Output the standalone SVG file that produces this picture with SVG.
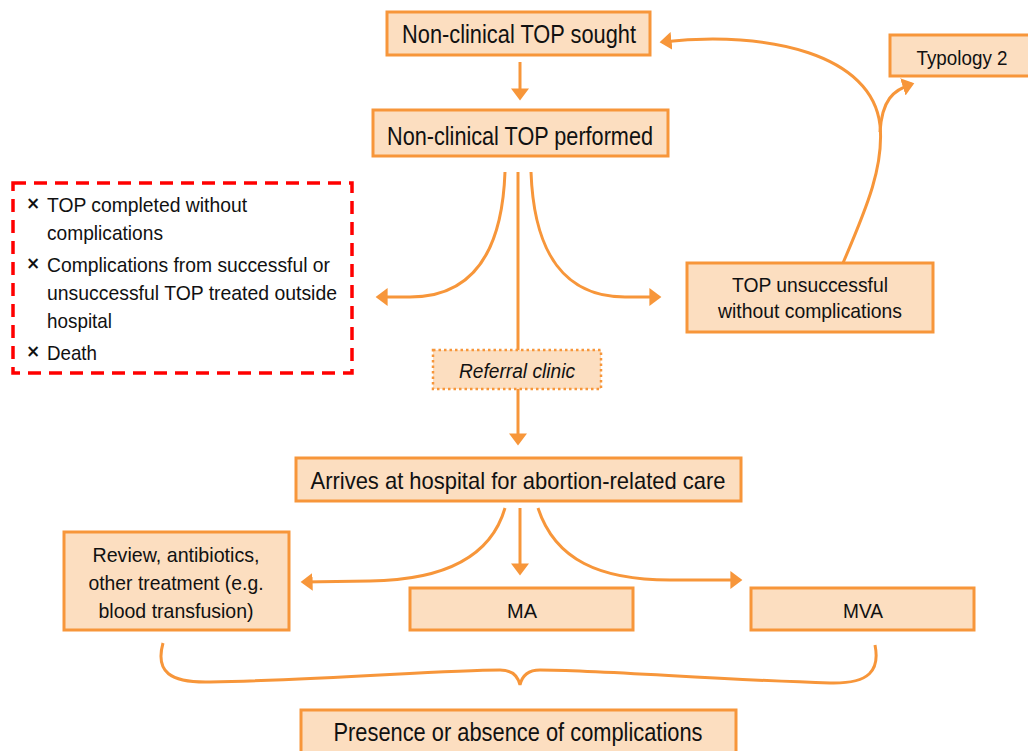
<svg xmlns="http://www.w3.org/2000/svg" width="1028" height="751" viewBox="0 0 1028 751">
<defs>
<style>
.box{fill:#FCDEC0;stroke:#F7963A;stroke-width:3}
.dot{fill:#FCDEC0;stroke:#F7963A;stroke-width:2.5;stroke-dasharray:2.5 3}
.t{font-family:"Liberation Sans Narrow","Liberation Sans",Arial,sans-serif;fill:#111;text-anchor:middle}
.l{font-family:"Liberation Sans Narrow","Liberation Sans",Arial,sans-serif;fill:#111}
.x{font-family:"DejaVu Sans",sans-serif;fill:#111;font-weight:bold}
.c{fill:none;stroke:#F7963A;stroke-width:3}
</style>
<marker id="ah" markerWidth="6" markerHeight="6" refX="3.2" refY="3" orient="auto" markerUnits="strokeWidth">
<path d="M0,0 L4,3 L0,6 Z" fill="#F7963A"/>
</marker>
</defs>
<rect width="1028" height="751" fill="#fff"/>

<g id="connectors">
<path class="c" d="M520,62 L520,98" marker-end="url(#ah)"/>
<path class="c" d="M843,263 C868,205 884,165 880,125 C872,55 770,30 662,42" marker-end="url(#ah)"/>
<path class="c" d="M880,132 C882,100 893,90 912,84" marker-end="url(#ah)"/>
<path class="c" d="M505,172 C502,255 470,297 410,297 L378,297" marker-end="url(#ah)"/>
<path class="c" d="M518,172 L518,350"/>
<path class="c" d="M531,172 C534,255 566,297 625,297 L659,297" marker-end="url(#ah)"/>
<path class="c" d="M518,389 L518,443" marker-end="url(#ah)"/>
<path class="c" d="M505,508 C490,560 440,580 370,581 L303,582" marker-end="url(#ah)"/>
<path class="c" d="M520,508 L520,573" marker-end="url(#ah)"/>
<path class="c" d="M538,508 C555,560 600,580 670,580 L740,580" marker-end="url(#ah)"/>
<path class="c" d="M163,643 C155,672 170,683 210,682 C330,680 440,670 500,670 C512,670 518,676 520,685 C522,676 528,670 540,670 C600,670 720,680 830,683 C870,684 880,670 875,645" stroke-width="2.5"/>
</g>

<g id="n-sought">
<rect class="box" x="387" y="12" width="263" height="43"/>
<text class="t" x="519" y="43" font-size="25" textLength="234" lengthAdjust="spacingAndGlyphs">Non-clinical TOP sought</text>
</g>
<g id="n-performed">
<rect class="box" x="373" y="110" width="295" height="46"/>
<text class="t" x="520" y="145" font-size="25" textLength="266" lengthAdjust="spacingAndGlyphs">Non-clinical TOP performed</text>
</g>
<g id="n-typology">
<rect class="box" x="890" y="35" width="145" height="41"/>
<text class="t" x="962" y="65" font-size="21" textLength="91" lengthAdjust="spacingAndGlyphs">Typology 2</text>
</g>
<g id="n-unsuccessful">
<rect class="box" x="687" y="263" width="246" height="69"/>
<text class="t" x="810" y="292" font-size="21" textLength="156" lengthAdjust="spacingAndGlyphs">TOP unsuccessful</text>
<text class="t" x="810" y="318" font-size="21" textLength="184" lengthAdjust="spacingAndGlyphs">without complications</text>
</g>
<g id="n-outcomes">
<rect x="13" y="183" width="339" height="190" fill="none" stroke="#FF0000" stroke-width="3.5" stroke-dasharray="13 8"/>
<text class="x" x="26" y="209" font-size="17">×</text>
<text class="x" x="26" y="269" font-size="17">×</text>
<text class="x" x="26" y="357" font-size="17">×</text>
<text class="l" x="47" y="212" font-size="21" textLength="200" lengthAdjust="spacingAndGlyphs">TOP completed without</text>
<text class="l" x="47" y="240" font-size="21" textLength="116" lengthAdjust="spacingAndGlyphs">complications</text>
<text class="l" x="47" y="272" font-size="21" textLength="283" lengthAdjust="spacingAndGlyphs">Complications from successful or</text>
<text class="l" x="47" y="300" font-size="21" textLength="290" lengthAdjust="spacingAndGlyphs">unsuccessful TOP treated outside</text>
<text class="l" x="47" y="328" font-size="21" textLength="65" lengthAdjust="spacingAndGlyphs">hospital</text>
<text class="l" x="47" y="360" font-size="21" textLength="50" lengthAdjust="spacingAndGlyphs">Death</text>
</g>
<g id="n-referral">
<rect class="dot" x="433" y="350" width="168" height="39"/>
<text class="t" x="517" y="378" font-size="20" font-style="italic" textLength="116" lengthAdjust="spacingAndGlyphs">Referral clinic</text>
</g>
<g id="n-hospital">
<rect class="box" x="296" y="458" width="445" height="43"/>
<text class="t" x="518" y="489" font-size="24" textLength="415" lengthAdjust="spacingAndGlyphs">Arrives at hospital for abortion-related care</text>
</g>
<g id="n-review">
<rect class="box" x="64" y="532" width="225" height="98"/>
<text class="t" x="176" y="562" font-size="21" textLength="167" lengthAdjust="spacingAndGlyphs">Review, antibiotics,</text>
<text class="t" x="176" y="590" font-size="21" textLength="175" lengthAdjust="spacingAndGlyphs">other treatment (e.g.</text>
<text class="t" x="176" y="618" font-size="21" textLength="155" lengthAdjust="spacingAndGlyphs">blood transfusion)</text>
</g>
<g id="n-ma">
<rect class="box" x="410" y="588" width="223" height="42"/>
<text class="t" x="522" y="618" font-size="21" textLength="30" lengthAdjust="spacingAndGlyphs">MA</text>
</g>
<g id="n-mva">
<rect class="box" x="751" y="588" width="223" height="42"/>
<text class="t" x="863" y="618" font-size="21" textLength="40" lengthAdjust="spacingAndGlyphs">MVA</text>
</g>
<g id="n-presence">
<rect class="box" x="301" y="710" width="435" height="50"/>
<text class="t" x="518" y="741" font-size="25" textLength="369" lengthAdjust="spacingAndGlyphs">Presence or absence of complications</text>
</g>
</svg>
